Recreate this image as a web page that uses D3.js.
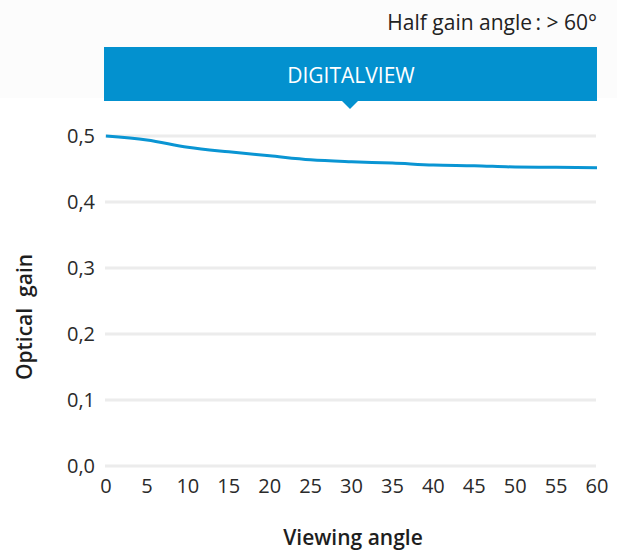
<!DOCTYPE html>
<html lang="en">
<head>
	<meta charset="UTF-8">
	<title>Optical gain</title>
	<script src="https://cdn.jsdelivr.net/npm/d3@7"></script>
	<style>
		html,body{
			margin:0;
			padding:0;
			background:#fff;
		}
		svg{
			display:block;
			font-family:"Open Sans","Noto Sans",sans-serif;
		}
	</style>
</head>
<body>
	<svg id="svg" width="617" height="551"></svg>
	<script>
		// viewing angle (deg) and optical gain
		var angles = [0,5,10,15,20,25,30,35,40,45,50,55,60];
		var gain = [0.500,0.494,0.483,0.476,0.470,0.464,0.461,0.459,0.456,0.455,0.453,0.4525,0.452];
		var yTicks = [0,0.1,0.2,0.3,0.4,0.5];
		var xTicks = [0,5,10,15,20,25,30,35,40,45,50,55,60];
		var title = "DIGITALVIEW";
		var note = "Half gain angle\u2009: > 60°";

		var svg = d3.select("#svg"),
			w = 617, h = 551;

		var x = d3.scaleLinear().domain([0,60]).range([106,597]);
		var y = d3.scaleLinear().domain([0,0.5]).range([466,136]);

		// header
		svg.append("rect")
			.attr("x",0).attr("y",0).attr("width",w).attr("height",98)
			.attr("fill","#fcfcfc");
		svg.append("text")
			.attr("x",597).attr("y",30)
			.attr("text-anchor","end")
			.attr("font-size",21)
			.attr("fill","#222")
			.text(note);
		svg.append("rect")
			.attr("x",104).attr("y",47).attr("width",493).attr("height",54)
			.attr("fill","#0391cf");
		svg.append("path")
			.attr("d","M342,101L358,101L350,109Z")
			.attr("fill","#0391cf");
		svg.append("text")
			.attr("x",351).attr("y",83)
			.attr("text-anchor","middle")
			.attr("font-size",21)
			.attr("font-weight",500)
			.attr("fill","#fff")
			.text(title);

		// grid + y labels
		var yAxis = svg.append("g")
		yAxis.selectAll("line").data(yTicks).enter().append("line")
			.attr("x1",105).attr("x2",596)
			.attr("y1",d=>y(d)).attr("y2",d=>y(d))
			.attr("stroke","#ececec")
			.attr("stroke-width",3);
		yAxis.selectAll("text").data(yTicks).enter().append("text")
			.attr("x",95).attr("y",d=>y(d)+7)
			.attr("text-anchor","end")
			.attr("font-size",20)
			.attr("fill","#2a2a2a")
			.text(d=>d3.format(".1f")(d).replace(".",","));

		// x labels
		svg.append("g").selectAll("text").data(xTicks).enter().append("text")
			.attr("x",d=>x(d)).attr("y",493)
			.attr("text-anchor","middle")
			.attr("font-size",20)
			.attr("fill","#2a2a2a")
			.text(d=>d);

		// curve
		var line = d3.line()
			.x((d,i)=>x(angles[i]))
			.y(d=>y(d))
			.curve(d3.curveMonotoneX);
		svg.append("path")
			.datum(gain)
			.attr("d",line)
			.attr("fill","none")
			.attr("stroke","#0a95d3")
			.attr("stroke-width",3);

		// axis titles
		svg.append("text")
			.attr("x",353).attr("y",545)
			.attr("text-anchor","middle")
			.attr("font-size",21)
			.attr("font-weight",600)
			.attr("fill","#1e1e1e")
			.text("Viewing angle");
		svg.append("text")
			.attr("transform","translate(32,317) rotate(-90)")
			.attr("text-anchor","middle")
			.attr("font-size",21)
			.attr("font-weight",600)
			.attr("fill","#1e1e1e")
			.attr("xml:space","preserve")
			.text("Optical  gain");
	</script>
</body>
</html>
